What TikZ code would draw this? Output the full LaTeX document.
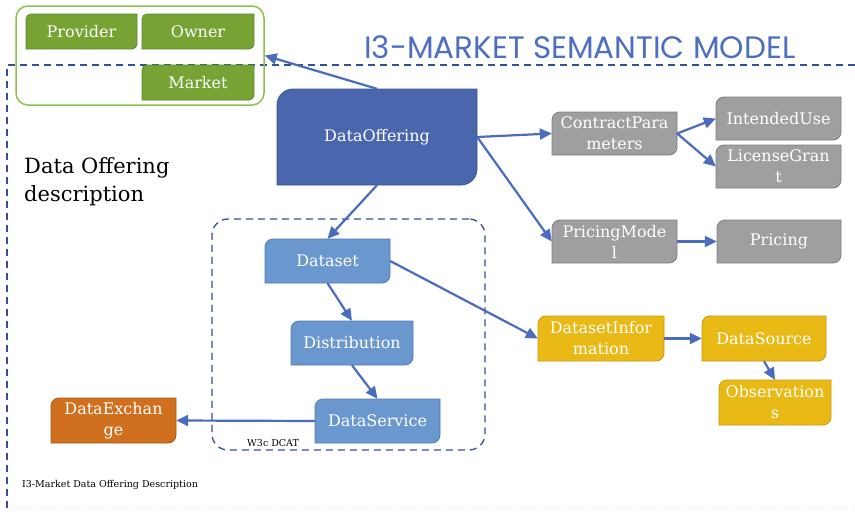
\documentclass[tikz,border=0pt]{standalone}
\usepackage{fontspec}
\setmainfont{DejaVu Serif}
\newfontfamily\titlefont{Poppins}
\usetikzlibrary{arrows.meta,calc}
\definecolor{greenfill}{HTML}{76A334}
\definecolor{greendraw}{HTML}{5B8A2A}
\definecolor{greenframe}{HTML}{8DC04F}
\definecolor{dofill}{HTML}{4A66AD}
\definecolor{dodraw}{HTML}{3B5592}
\definecolor{lbfill}{HTML}{6B97CF}
\definecolor{lbdraw}{HTML}{4F7BB9}
\definecolor{grayfill}{HTML}{A09F9F}
\definecolor{graydraw}{HTML}{7D7D7D}
\definecolor{yfill}{HTML}{E9B915}
\definecolor{ydraw}{HTML}{C9980C}
\definecolor{ofill}{HTML}{D0701E}
\definecolor{odraw}{HTML}{A9591A}
\definecolor{arrowblue}{HTML}{4A6CBF}
\definecolor{dashblue}{HTML}{33518F}
\definecolor{titleblue}{HTML}{4D6FC2}
\tikzset{
  gbox/.style={fill=greenfill,draw=greendraw},
  dobox/.style={fill=dofill,draw=dodraw},
  lbbox/.style={fill=lbfill,draw=lbdraw},
  graybox/.style={fill=grayfill,draw=graydraw},
  ybox/.style={fill=yfill,draw=ydraw},
  obox/.style={fill=ofill,draw=odraw},
  boxtext/.style={rectangle,inner sep=0pt,align=center,text=white,font=\fontsize{16}{21}\selectfont},
  conn/.style={draw=arrowblue,line width=2.2pt,-{Triangle[length=12pt,width=11pt]}},
  dashline/.style={draw=dashblue,line width=1.3pt,dash pattern=on 7pt off 5pt},
}
% [radius]{name}{x1}{y1}{x2}{y2}{style}{text}
\newcommand\rdbox[8][8]{%
  \pgfmathsetmacro\rdw{#5-#3}\pgfmathsetmacro\rdh{#6-#4}%
  \pgfmathsetmacro\rdmx{(#3+#5)/2}\pgfmathsetmacro\rdmy{(#4+#6)/2}%
  \path[#7,line width=0.8pt] (#3,\rdmy) [rounded corners=#1pt] -- (#3,#4) -- (\rdmx,#4) [sharp corners] -- (#5,#4) -- (#5,\rdmy) [rounded corners=#1pt] -- (#5,#6) -- (\rdmx,#6) [sharp corners] -- (#3,#6) -- cycle;
  \node[boxtext,minimum width=\rdw pt,minimum height=\rdh pt] (#2) at (\rdmx,\rdmy) {#8};%
}
\begin{document}
\begin{tikzpicture}[x=1pt,y=-1pt]
\useasboundingbox (0,0) rectangle (855,512);
\fill[white] (0,0) rectangle (855,512);
% title
\node[anchor=west,inner sep=0pt,text=titleblue,font=\titlefont\fontsize{31}{34}\selectfont] (title) at (364,47) {I3-MARKET SEMANTIC MODEL};
% frame dashed lines
\coordinate (fa) at (7,65);
\coordinate (fb) at (855,65);
\coordinate (fc) at (7,512);
\draw[dashline] (fb) -- (fa) -- (fc);
\draw[gray!20,line width=1pt,dotted] (7,508) -- (855,508);
% green container
\node[draw=greenframe,line width=1.5pt,rounded corners=12pt,minimum width=248pt,minimum height=99pt,inner sep=0pt] (roles) at (140,55.5) {};
\rdbox[5]{prov}{26}{14}{137}{49}{gbox}{Provider}
\rdbox[5]{owner}{142}{14}{254}{49}{gbox}{Owner}
\rdbox[5]{market}{142}{65}{254}{100}{gbox}{Market}
% DCAT box
\node[dashline,rounded corners=16pt,minimum width=273pt,minimum height=231pt,inner sep=0pt] (dcat) at (348.5,334.5) {};
\node[anchor=west,inner sep=0pt,font=\fontsize{9.5}{11}\selectfont] (dcatlbl) at (247,443) {W3c DCAT};
% boxes
\rdbox[16]{do}{277}{89}{477}{185}{dobox}{DataOffering}
\rdbox{cp}{552}{112}{677}{155}{graybox}{ContractPara\\meters}
\rdbox{iu}{716}{97}{841}{140}{graybox}{IntendedUse}
\rdbox{lg}{716}{145}{841}{188}{graybox}{LicenseGran\\t}
\rdbox{pm}{552}{220}{677}{263}{graybox}{PricingMode\\l}
\rdbox{pr}{717}{220}{841}{263}{graybox}{Pricing}
\rdbox{ds}{265}{239}{390}{283}{lbbox}{Dataset}
\rdbox{dist}{291}{321}{413}{365}{lbbox}{Distribution}
\rdbox{dsv}{315}{399}{440}{443}{lbbox}{DataService}
\rdbox{dx}{51}{398}{176}{443}{obox}{DataExchan\\ge}
\rdbox{dsi}{538}{316}{664}{361}{ybox}{DatasetInfor\\mation}
\rdbox{dsrc}{702}{316}{826}{361}{ybox}{DataSource}
\rdbox{obs}{719}{380}{831}{425}{ybox}{Observation\\s}
% side texts
\node[anchor=north west,inner sep=0pt,align=left,font=\fontsize{21}{28}\selectfont] (desc) at (24,157) {Data Offering\\description};
\node[anchor=west,inner sep=0pt,font=\fontsize{9.5}{11}\selectfont] (caption) at (22,485) {I3-Market Data Offering Description};
% connectors
\draw[conn] (do.north) -- (roles.east);
\draw[conn] (do.east) -- (cp.west);
\draw[conn] (do.east) -- (pm.west);
\draw[conn] (cp.east) -- (iu.west);
\draw[conn] (cp.east) -- (lg.west);
\draw[conn] (pm.east) -- (pr.west);
\draw[conn] (do.south) -- (ds.north);
\draw[conn] (ds.south) -- (dist.north);
\draw[conn] (dist.south) -- (dsv.north);
\draw[conn] (dsv.west) -- (dx.east);
\draw[conn] (ds.east) -- (dsi.west);
\draw[conn] (dsi.east) -- (dsrc.west);
\draw[conn] (dsrc.south) -- (obs.north);
\end{tikzpicture}
\end{document}
